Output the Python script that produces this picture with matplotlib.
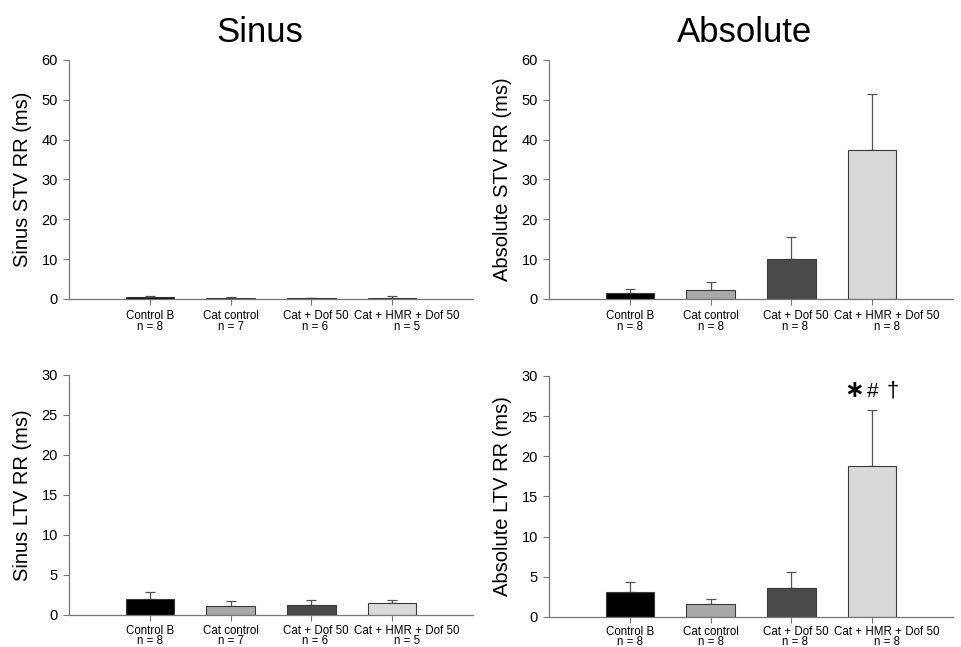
import numpy as np
import matplotlib.pyplot as plt
import matplotlib.transforms as mtransforms

plt.rcParams['font.family'] = ['Liberation Sans', 'DejaVu Sans']

groups = ['Control B', 'Cat control', 'Cat + Dof 50', 'Cat + HMR + Dof 50']
colours = ['#000000', '#a9a9a9', '#4a4a4a', '#d9d9d9']

n_sinus = [8, 7, 6, 5]
n_abs = [8, 8, 8, 8]

sinus_stv = [0.6, 0.35, 0.2, 0.35]
sinus_stv_err = [0.1, 0.25, 0.05, 0.4]
abs_stv = [1.5, 2.3, 10.0, 37.5]
abs_stv_err = [0.9, 1.9, 5.6, 14.0]

sinus_ltv = [1.96, 1.17, 1.25, 1.5]
sinus_ltv_err = [0.88, 0.59, 0.63, 0.34]
abs_ltv = [3.1, 1.66, 3.6, 18.8]
abs_ltv_err = [1.3, 0.64, 2.0, 7.0]

fig = plt.figure(figsize=(9.61, 6.47), dpi=100)
ax_tl = fig.add_axes([0.0718, 0.5379, 0.4204, 0.3694])
ax_tr = fig.add_axes([0.5713, 0.5379, 0.4204, 0.3694])
ax_bl = fig.add_axes([0.0718, 0.0495, 0.4204, 0.371])
ax_br = fig.add_axes([0.5713, 0.0464, 0.4204, 0.3725])

# (axes, means, upper errors, n, ymax, tick step, ylabel, label offset px, line spacing)
panels = [
    (ax_tl, sinus_stv, sinus_stv_err, n_sinus, 60, 10, 'Sinus STV RR (ms)', 11, 0.92),
    (ax_tr, abs_stv, abs_stv_err, n_abs, 60, 10, 'Absolute STV RR (ms)', 11, 0.92),
    (ax_bl, sinus_ltv, sinus_ltv_err, n_sinus, 30, 5, 'Sinus LTV RR (ms)', 10, 0.8),
    (ax_br, abs_ltv, abs_ltv_err, n_abs, 30, 5, 'Absolute LTV RR (ms)', 9, 0.76),
]

# sideways nudge of the category labels (px), the long one sits right of its tick
label_shift = [0, 0, 4, 15]

x = np.arange(1, len(groups) + 1)
for ax, vals, errs, ns, ymax, step, lab, off, lsp in panels:
    ax.bar(x, vals, width=0.6, color=colours, edgecolor='#3a3a3a', linewidth=0.8, zorder=2)
    ax.errorbar(x, vals, yerr=[np.zeros(len(vals)), errs], fmt='none', ecolor='#555555',
                elinewidth=0.9, capsize=3.5, capthick=0.9, zorder=1)
    ax.set_xlim(0, 5)
    ax.set_ylim(0, ymax)
    ax.set_yticks(np.arange(0, ymax + 1, step))
    ax.set_xticks(x)
    ax.set_xticklabels([])
    for xi, g, n, dx in zip(x, groups, ns, label_shift):
        tr = ax.get_xaxis_transform() + mtransforms.ScaledTranslation(dx / 100, -off / 100, fig.dpi_scale_trans)
        ax.text(xi, 0, '%s\nn = %d' % (g, n), transform=tr, fontsize=8.3, linespacing=lsp,
                ha='center', va='top', multialignment='center')
    ax.tick_params(axis='y', labelsize=10.5, length=4, width=0.8, color='#777777', pad=4)
    ax.tick_params(axis='x', length=4, width=0.8, color='#777777')
    for s in ['top', 'right']:
        ax.spines[s].set_visible(False)
    for s in ['left', 'bottom']:
        ax.spines[s].set_color('#777777')
        ax.spines[s].set_linewidth(0.9)
    ax.set_ylabel(lab, fontsize=14.5)
    ax.yaxis.set_label_coords(-0.092, 0.5)

fig.text(0.27, 0.95, 'Sinus', fontsize=25, ha='center', va='center')
fig.text(0.775, 0.95, 'Absolute', fontsize=25, ha='center', va='center')

# significance marks above the HMR bar
ytop = abs_ltv[3] + abs_ltv_err[3]
ax_br.text(x[3] - 0.22, ytop + 1.6, '\u2217', fontsize=17, fontweight='bold',
           family='DejaVu Sans', ha='center', va='baseline')
ax_br.text(x[3] + 0.01, ytop + 1.6, '#', fontsize=15, ha='center', va='baseline')
ax_br.text(x[3] + 0.25, ytop + 1.6, '\u2020', fontsize=16, ha='center', va='baseline')

fig.savefig('out.png', dpi=100)
